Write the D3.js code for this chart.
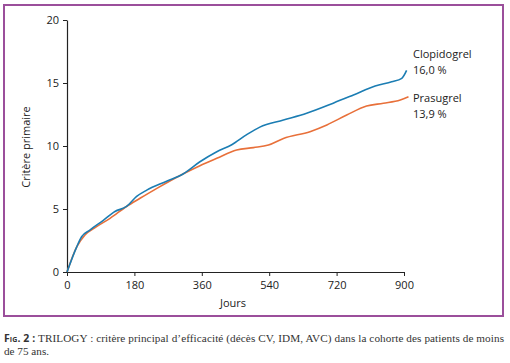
<!DOCTYPE html>
<html>
<head>
<meta charset="utf-8">
<script src="https://cdn.jsdelivr.net/npm/d3@7"></script>
<style>
  body { margin: 0; background: #fff; }
  svg text { font-family: "Open Sans", "Noto Sans", sans-serif; }
</style>
</head>
<body>
<svg id="chart" width="510" height="363"></svg>
<script>
// data
const days = [0, 26, 39, 61, 97, 128, 159, 186, 213, 266, 311, 355, 400, 440, 480, 515, 578, 640, 711, 765, 823, 867, 894, 907];
const clopidogrel = [0, 2.0, 2.8, 3.33, 4.1, 4.8, 5.2, 6.0, 6.5, 7.2, 7.8, 8.75, 9.55, 10.1, 10.9, 11.5, 12.06, 12.6, 13.4, 14.05, 14.76, 15.1, 15.37, 16.0];

const daysP = [0, 26, 48, 79, 115, 159, 195, 240, 311, 355, 400, 453, 498, 538, 578, 649, 694, 747, 800, 845, 890, 912];
const prasugrel = [0, 2.0, 2.94, 3.6, 4.26, 5.2, 5.85, 6.64, 7.8, 8.44, 9.02, 9.68, 9.87, 10.08, 10.6, 11.14, 11.67, 12.46, 13.17, 13.39, 13.65, 13.9];

const xTicks = [0, 180, 360, 540, 720, 900];
const yTicks = [0, 5, 10, 15, 20];

const svg = d3.select("#chart");

// purple frame
svg.append("rect")
    .attr("x", 4).attr("y", 5)
    .attr("width", 499).attr("height", 311)
    .attr("fill", "none")
    .attr("stroke", "#9b4f9b")
    .attr("stroke-width", 2);

const x = d3.scaleLinear().domain([0, 900]).range([67, 404]);
const y = d3.scaleLinear().domain([0, 20]).range([272, 20]);

const xAxis = svg.append("g")
    .attr("transform", "translate(0,272)")
    .call(d3.axisBottom(x).tickValues(xTicks).tickSize(4).tickSizeOuter(0).tickPadding(5));
const yAxis = svg.append("g")
    .attr("transform", "translate(67,0)")
    .call(d3.axisLeft(y).tickValues(yTicks).tickSize(4).tickSizeOuter(0).tickPadding(4));

[xAxis, yAxis].forEach(g => {
    g.select(".domain").attr("stroke", "#222").attr("stroke-width", 1.2);
    g.selectAll(".tick line").attr("stroke", "#222");
    g.selectAll(".tick text")
        .attr("fill", "#222")
        .style("font-size", "11px")
        .style("font-family", "\"Open Sans\", sans-serif");
});

const line = d3.line()
    .x(d => x(d[0]))
    .y(d => y(d[1]))
    .curve(d3.curveMonotoneX);

svg.append("path")
    .datum(daysP.map((d, i) => [d, prasugrel[i]]))
    .attr("d", line)
    .attr("fill", "none")
    .attr("stroke", "#e8703a")
    .attr("stroke-width", 1.6);

svg.append("path")
    .datum(days.map((d, i) => [d, clopidogrel[i]]))
    .attr("d", line)
    .attr("fill", "none")
    .attr("stroke", "#1b7db3")
    .attr("stroke-width", 1.6);

// axis titles
svg.append("text")
    .attr("x", 233).attr("y", 307)
    .attr("text-anchor", "middle")
    .attr("fill", "#222")
    .style("font-size", "11px")
    .text("Jours");

svg.append("text")
    .attr("transform", "translate(30,147) rotate(-90)")
    .attr("text-anchor", "middle")
    .attr("fill", "#222")
    .style("font-size", "11px")
    .text("Critère primaire");

// series labels
const labels = [
    { y: 58, text: "Clopidogrel" },
    { y: 74, text: "16,0 %" },
    { y: 102, text: "Prasugrel" },
    { y: 118, text: "13,9 %" }
];
svg.selectAll(".lbl")
    .data(labels)
    .join("text")
    .attr("class", "lbl")
    .attr("x", 413)
    .attr("y", d => d.y)
    .attr("fill", "#222")
    .style("font-size", "11px")
    .text(d => d.text);

// caption
const cap = svg.append("text")
    .attr("x", 4).attr("y", 342)
    .attr("fill", "#333")
    .attr("textLength", 500)
    .attr("lengthAdjust", "spacing")
    .style("font-family", "\"Liberation Serif\", \"DejaVu Serif\", serif")
    .style("font-size", "11.2px");
cap.append("tspan")
    .style("font-family", "\"Open Sans\", sans-serif")
    .style("font-weight", "bold")
    .style("font-variant", "small-caps")
    .style("font-size", "10.5px")
    .text("Fig. 2 :");
cap.append("tspan").text(" TRILOGY : critère principal d’efficacité (décès CV, IDM, AVC) dans la cohorte des patients de moins");
svg.append("text")
    .attr("x", 4).attr("y", 355)
    .attr("fill", "#333")
    .style("font-family", "\"Liberation Serif\", \"DejaVu Serif\", serif")
    .style("font-size", "11.2px")
    .text("de 75 ans.");
</script>
</body>
</html>
